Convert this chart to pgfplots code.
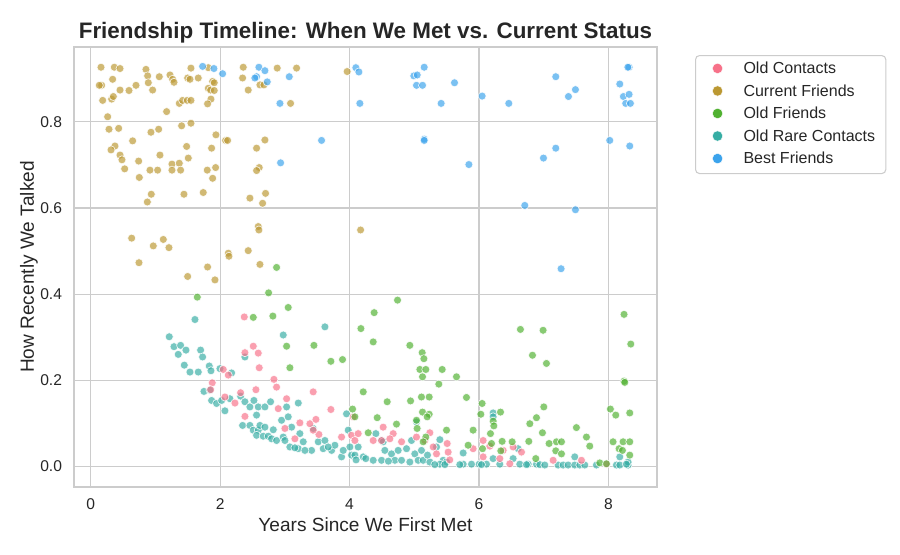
\documentclass[border=0pt]{standalone}
\usepackage{fontspec}
\setmainfont{Liberation Sans}
\usepackage{pgfplots}
\pgfplotsset{compat=1.18}

\definecolor{oldc}{HTML}{F77189}
\definecolor{curf}{HTML}{BB9832}
\definecolor{oldf}{HTML}{50B131}
\definecolor{rare}{HTML}{36ADA4}
\definecolor{best}{HTML}{3BA3EC}
\definecolor{gridc}{HTML}{CCCCCC}
\definecolor{txt}{HTML}{262626}

\pgfplotsset{
  dots/.style={only marks, mark=*, mark size=3.0pt,
    mark options={fill=#1, draw=white, line width=0.5pt, fill opacity=0.68, draw opacity=0.85}},
  key/.style={only marks, mark=*, mark size=3.9pt,
    mark options={fill=#1, draw=white, line width=0.3pt}},
}

\begin{document}
\begin{tikzpicture}
\path[use as bounding box] (-55.5pt,-50.25pt) rectangle (619.5pt,365.25pt);
\begin{axis}[
  width=437.25pt, height=330pt, scale only axis,
  xmin=-0.258, xmax=8.75, ymin=-0.048, ymax=0.974,
  xtick={0,2,4,6,8}, ytick={0,0.2,0.4,0.6,0.8},
  /pgf/number format/assume math mode=true,
  yticklabel style={/pgf/number format/.cd, fixed, fixed zerofill, precision=1, /tikz/.cd},
  tick label style={font=\fontsize{11.7}{14}\selectfont, color=txt},
  xticklabel style={anchor=base, yshift=-16.9pt},
  yticklabel style={anchor=east, inner sep=0pt, xshift=-8.8pt},
  major tick length=0pt,
  axis line style={gridc, line width=0.8pt},
  grid=major, grid style={gridc, line width=0.8pt},
  title={Friendship Timeline: When We Met vs. Current Status},
  title style={at={(axis description cs:0.5,1)}, anchor=base, yshift=0.75pt,
    font=\bfseries\fontsize{16.8}{20}\selectfont, color=txt},
  xlabel={Years Since We First Met},
  xlabel style={at={(axis description cs:0.5,0)}, anchor=base, yshift=-33.5pt,
    font=\fontsize{14.3}{17}\selectfont, color=txt},
  ylabel={How Recently We Talked},
  ylabel style={at={(axis description cs:-0.069,0.5)}, anchor=base,
    font=\fontsize{14.3}{17}\selectfont, color=txt},
  legend style={at={(axis description cs:1.0652,0.9818)}, anchor=north west,
    draw=gridc, line width=0.8pt, rounded corners=3pt, fill=white,
    font=\fontsize{12}{14}\selectfont, text=txt, inner xsep=6pt, inner ysep=2pt,
    nodes={text height=9pt, text depth=2.5pt, inner ysep=2.7pt}},
  legend cell align=left,
  legend image code/.code={\path[draw=none, fill=none] (0pt,0pt) rectangle (28pt,0pt);
    \draw[#1] plot coordinates {(10.5pt,0.8pt)};},
]

\addlegendimage{key=oldc}\addlegendentry{Old Contacts}
\addlegendimage{key=curf}\addlegendentry{Current Friends}
\addlegendimage{key=oldf}\addlegendentry{Old Friends}
\addlegendimage{key=rare}\addlegendentry{Old Rare Contacts}
\addlegendimage{key=best}\addlegendentry{Best Friends}

% Old Rare Contacts
\addplot[dots=rare, forget plot] table {
x y
1.214 0.301
1.287 0.278
1.389 0.281
1.353 0.260
1.472 0.270
1.698 0.270
1.729 0.254
1.446 0.235
1.534 0.219
1.662 0.219
1.832 0.233
1.858 0.222
1.997 0.227
2.177 0.217
1.750 0.174
1.842 0.177
1.868 0.153
1.945 0.146
2.023 0.153
2.074 0.129
2.151 0.157
2.316 0.163
2.383 0.150
2.460 0.138
2.522 0.153
2.589 0.138
2.692 0.138
2.779 0.150
2.563 0.119
2.347 0.095
2.460 0.095
2.512 0.084
2.589 0.084
2.615 0.095
2.692 0.091
2.563 0.072
2.666 0.070
2.743 0.070
2.821 0.085
2.795 0.064
2.872 0.060
2.975 0.068
2.949 0.107
2.975 0.305
2.383 0.254
1.611 0.341
3.619 0.324
3.027 0.138
3.052 0.115
3.104 0.091
3.207 0.147
3.232 0.076
3.001 0.060
3.078 0.045
3.207 0.041
3.284 0.057
3.413 0.037
3.438 0.088
3.516 0.057
3.619 0.060
3.593 0.041
3.722 0.037
3.773 0.049
3.876 0.022
3.953 0.122
3.979 0.084
4.005 0.045
4.030 0.026
4.133 0.045
4.211 0.022
4.365 0.014
4.494 0.060
4.545 0.037
4.494 0.014
4.648 0.029
4.751 0.037
4.880 0.041
4.957 0.060
5.008 0.029
5.034 0.103
5.060 0.014
5.111 0.037
4.700 0.014
4.803 0.014
3.310 0.037
3.155 0.043
3.670 0.045
3.902 0.037
4.082 0.026
4.406 0.076
4.519 0.057
4.931 0.010
4.600 0.012
4.250 0.018
4.100 0.015
5.137 0.014
5.240 0.010
5.395 0.062
5.343 0.045
5.446 0.014
5.498 0.010
6.218 0.124
6.218 0.115
5.755 0.031
5.755 0.005
5.884 0.005
6.002 0.005
6.115 0.005
6.218 0.018
6.321 0.005
6.527 0.018
6.604 0.041
6.630 0.005
6.759 0.005
6.888 0.005
5.204 0.026
5.395 0.005
5.317 0.004
5.472 0.004
5.703 0.004
6.038 0.004
6.733 0.004
6.939 0.004
7.016 0.003
7.222 0.003
7.299 0.003
7.376 0.003
7.479 0.003
7.557 0.003
7.634 0.003
7.814 0.003
8.123 0.003
8.175 0.003
8.303 0.003
7.479 0.022
8.175 0.022
8.303 0.010
8.277 0.005
};

% Old Contacts
\addplot[dots=oldc, forget plot] table {
x y
2.373 0.347
2.512 0.279
2.383 0.264
2.589 0.263
2.604 0.229
2.048 0.225
2.126 0.212
1.878 0.194
1.853 0.178
2.831 0.202
2.872 0.184
2.553 0.178
2.316 0.171
2.229 0.147
2.074 0.161
2.383 0.116
2.898 0.134
3.027 0.157
3.438 0.173
3.711 0.132
3.232 0.101
3.387 0.099
3.480 0.109
3.526 0.074
3.438 0.084
3.155 0.064
3.876 0.068
4.030 0.072
4.133 0.076
4.082 0.060
4.365 0.060
4.494 0.060
4.519 0.091
4.674 0.076
4.622 0.064
4.803 0.057
4.056 0.115
3.001 0.088
5.034 0.068
5.163 0.060
5.240 0.078
5.292 0.045
5.508 0.053
5.523 0.033
5.548 0.015
5.343 0.029
5.909 0.041
6.064 0.060
6.064 0.022
6.167 0.047
6.321 0.018
6.476 0.006
6.527 0.045
6.656 0.033
6.373 0.037
7.145 0.014
7.583 0.014
7.969 0.005
};

% Current Friends
\addplot[dots=curf, forget plot] table {
x y
0.159 0.927
0.365 0.927
0.453 0.924
0.854 0.922
0.880 0.907
1.060 0.905
1.225 0.909
1.266 0.899
1.287 0.892
1.549 0.925
1.498 0.902
1.534 0.899
1.662 0.902
1.817 0.926
2.357 0.927
2.347 0.902
2.882 0.925
3.181 0.925
3.963 0.917
0.339 0.899
0.169 0.885
0.133 0.885
0.453 0.874
0.592 0.873
0.700 0.885
0.890 0.891
0.957 0.874
1.884 0.894
1.909 0.891
1.817 0.878
1.853 0.874
1.909 0.873
2.615 0.886
2.676 0.886
2.434 0.874
0.185 0.850
0.324 0.853
0.350 0.859
1.369 0.843
1.420 0.850
1.492 0.850
1.549 0.850
1.858 0.853
1.806 0.842
3.088 0.843
1.173 0.824
0.262 0.812
0.283 0.783
0.432 0.785
0.931 0.776
1.050 0.783
1.405 0.791
1.549 0.797
1.935 0.770
2.084 0.757
2.115 0.757
2.692 0.758
2.563 0.739
0.648 0.756
0.375 0.744
0.314 0.735
0.453 0.723
0.483 0.712
0.525 0.691
0.741 0.709
0.916 0.688
1.034 0.688
1.070 0.723
1.256 0.702
1.256 0.688
1.369 0.704
1.389 0.688
1.482 0.743
1.508 0.716
1.868 0.739
1.801 0.688
1.930 0.694
1.884 0.669
2.604 0.694
2.563 0.687
0.751 0.671
0.936 0.632
0.875 0.614
1.441 0.632
1.739 0.636
2.460 0.623
2.702 0.634
2.656 0.611
2.589 0.557
2.599 0.549
0.633 0.530
0.967 0.512
1.122 0.527
1.209 0.508
0.746 0.473
2.126 0.495
2.136 0.488
2.434 0.501
2.615 0.469
1.806 0.463
1.498 0.441
1.920 0.433
4.170 0.549
};

% Old Friends
\addplot[dots=oldf, forget plot] table {
x y
2.872 0.462
1.647 0.393
2.749 0.403
3.052 0.369
2.512 0.346
2.815 0.349
3.027 0.279
3.449 0.281
3.078 0.229
3.711 0.244
4.741 0.386
4.380 0.357
4.175 0.320
4.365 0.289
4.931 0.281
5.122 0.264
5.148 0.250
5.086 0.225
5.178 0.225
5.127 0.208
5.431 0.225
5.652 0.208
5.379 0.191
3.891 0.248
4.211 0.173
4.581 0.150
4.942 0.152
5.111 0.161
5.230 0.161
5.806 0.160
4.046 0.133
4.082 0.115
4.427 0.113
4.725 0.098
4.288 0.078
5.034 0.107
5.127 0.126
5.230 0.121
5.199 0.115
5.044 0.088
5.498 0.084
5.178 0.068
5.137 0.057
5.909 0.084
5.832 0.049
6.048 0.146
6.028 0.121
6.332 0.126
6.218 0.105
6.229 0.094
6.177 0.076
6.193 0.053
6.357 0.058
6.337 0.036
6.054 0.041
6.512 0.057
6.640 0.318
6.990 0.316
6.826 0.258
7.042 0.239
7.001 0.138
6.888 0.113
6.785 0.099
6.980 0.078
6.769 0.058
7.083 0.053
7.197 0.057
7.274 0.057
7.186 0.036
7.274 0.029
6.877 0.018
7.505 0.090
7.660 0.068
7.711 0.047
7.866 0.008
8.241 0.353
8.345 0.284
8.241 0.198
8.252 0.195
8.030 0.133
8.113 0.119
8.329 0.124
8.071 0.057
8.226 0.057
8.329 0.057
8.164 0.041
8.216 0.037
8.329 0.026
7.969 0.006
};

% Best Friends
\addplot[dots=best, forget plot] table {
x y
1.729 0.929
1.904 0.924
2.038 0.912
2.599 0.927
2.692 0.919
2.563 0.905
2.537 0.902
2.728 0.893
3.068 0.905
2.924 0.843
3.567 0.757
2.934 0.705
4.097 0.926
4.144 0.916
4.159 0.843
5.153 0.927
4.993 0.907
5.045 0.909
5.034 0.885
5.127 0.885
5.415 0.843
5.621 0.891
6.048 0.860
6.460 0.843
7.186 0.905
7.490 0.875
7.382 0.859
8.319 0.927
8.300 0.927
8.175 0.888
8.231 0.859
8.319 0.864
8.267 0.843
8.339 0.843
5.153 0.760
5.153 0.757
5.843 0.701
6.996 0.716
7.186 0.739
8.020 0.757
8.329 0.744
6.707 0.606
7.490 0.596
7.268 0.459
};

\end{axis}
\end{tikzpicture}
\end{document}
